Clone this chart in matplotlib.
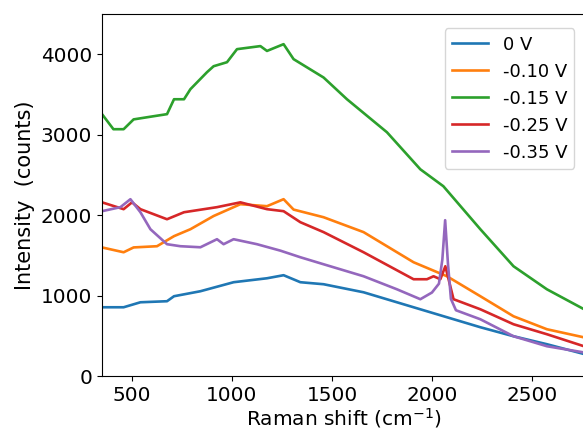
import matplotlib.pyplot as plt
import numpy as np

# (Raman shift, counts)
x_0v = [350, 458, 542, 675, 710, 842, 1008, 1175, 1258, 1342, 1458, 1658, 1908, 2075, 2242, 2408, 2575, 2770]
y_0v = [857, 857, 919, 932, 994, 1056, 1168, 1217, 1255, 1168, 1143, 1043, 857, 733, 609, 497, 398, 270]

x_010 = [350, 458, 508, 625, 710, 792, 908, 1042, 1175, 1258, 1308, 1458, 1658, 1908, 2075, 2242, 2408, 2575, 2770]
y_010 = [1600, 1540, 1600, 1615, 1740, 1826, 1990, 2137, 2112, 2199, 2070, 1975, 1790, 1416, 1242, 994, 745, 584, 478]

x_015 = [350, 407, 458, 508, 610, 675, 710, 760, 792, 875, 908, 975, 1025, 1142, 1175, 1258, 1308,
         1458, 1575, 1775, 1942, 2057, 2242, 2408, 2575, 2770]
y_015 = [3255, 3068, 3068, 3190, 3230, 3255, 3440, 3440, 3565, 3776, 3850, 3900, 4062, 4100, 4040, 4124, 3938,
         3710, 3440, 3030, 2570, 2360, 1826, 1366, 1080, 820]

x_025 = [350, 458, 500, 542, 675, 760, 925, 1042, 1175, 1258, 1342, 1458, 1658, 1908, 1975, 2008,
         2042, 2067, 2108, 2242, 2408, 2575, 2770]
y_025 = [2160, 2075, 2160, 2075, 1950, 2037, 2100, 2160, 2075, 2050, 1913, 1790, 1540, 1205, 1205, 1242,
         1205, 1366, 957, 832, 646, 522, 365]

x_035 = [350, 442, 492, 542, 592, 675, 742, 842, 925, 958, 1008, 1125, 1242, 1342, 1458, 1658, 1825,
         1942, 2000, 2035, 2052, 2066, 2080, 2095, 2120, 2242, 2408, 2575, 2770]
y_035 = [2050, 2100, 2199, 2037, 1826, 1640, 1615, 1602, 1702, 1640, 1702, 1640, 1560, 1478, 1391, 1242, 1080,
         957, 1040, 1150, 1450, 1938, 1400, 960, 820, 708, 497, 373, 292]

labels = ["0 V", "-0.10 V", "-0.15 V", "-0.25 V", "-0.35 V"]


def main():
    fig = plt.figure(figsize=(5.83, 4.34), dpi=100)
    ax = fig.add_axes([0.175, 0.133, 0.83, 0.835])

    series = [(x_0v, y_0v), (x_010, y_010), (x_015, y_015), (x_025, y_025), (x_035, y_035)]
    for (xs, ys), lab in zip(series, labels):
        ax.plot(xs, ys, lw=1.9, label=lab)

    ax.set_xlim(350, 2770)
    ax.set_ylim(0, 4500)
    ax.set_xticks([500, 1000, 1500, 2000, 2500])
    ax.set_yticks([0, 1000, 2000, 3000, 4000])
    ax.tick_params(labelsize=14.4)
    ax.set_xlabel("Raman shift (cm$^{-1}$)", fontsize=14.5, labelpad=1)
    ax.set_ylabel("Intensity  (counts)", fontsize=15)
    ax.legend(loc="upper right", fontsize=13, bbox_to_anchor=(0.995, 0.985))

    fig.savefig("out.png", dpi=100)


if __name__ == '__main__':
    main()
